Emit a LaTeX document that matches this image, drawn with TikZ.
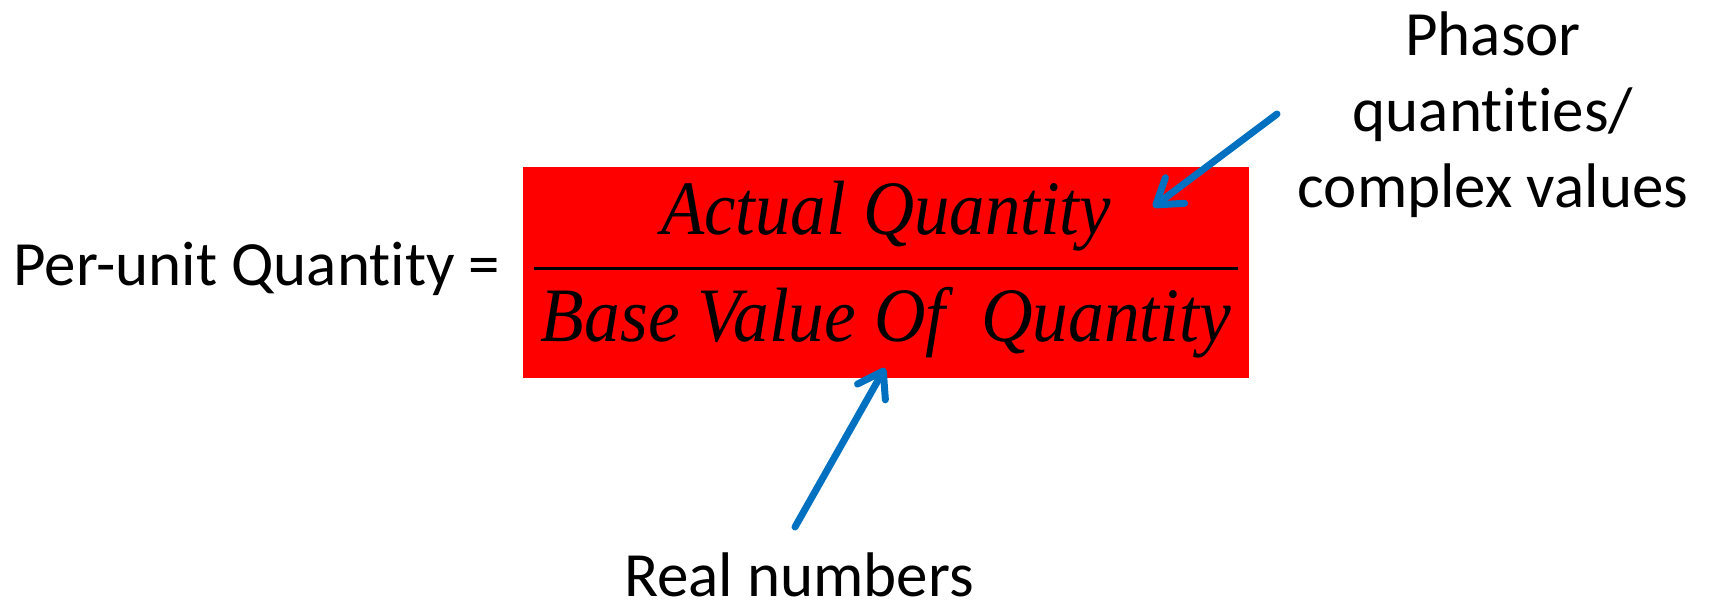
\documentclass[tikz,border=0pt]{standalone}
\usepackage{fontspec}
\setmainfont{Carlito}[Ligatures={NoCommon}]
\newfontfamily\tnr{Liberation Serif}
\usetikzlibrary{arrows.meta}
\definecolor{pblue}{RGB}{0,112,192}
\newcommand\nlg{\kern0pt }
\begin{document}
\begin{tikzpicture}[x=0.5pt,y=-0.5pt,
  lbl/.style={font=\fontsize{31.5}{38}\selectfont, inner sep=0, anchor=base},
  fracterm/.style={font=\tnr\itshape\fontsize{35}{42}\selectfont, inner sep=0, anchor=base},
  pointer/.style={draw=pblue, line width=3.5pt, line cap=round,
    -{Straight Barb[length=12pt,width=16pt,round]}}]
\useasboundingbox (0,0) rectangle (1710,600);
\node[fill=red, minimum width=363pt, minimum height=105.5pt, inner sep=0,
  anchor=north west] (box) at (523,167) {};
\draw[line width=1.5pt] (534,268) -- (1238,268);
\node[fracterm] (num) at (886,234) {\scalebox{1.01}[1.1]{Actual Quantity}};
\node[fracterm] (den) at (886,341) {\scalebox{1.02}[1.1]{Base Value Of\ \ Quantity}};
\node[lbl, anchor=base west] (pu) at (13,285) {Per-unit Quant\nlg ity =};
\node[lbl] (ph1) at (1493,55) {Phasor};
\node[lbl] (ph2) at (1493,131) {quant\nlg it\nlg ies/};
\node[lbl] (ph3) at (1493,207) {complex values};
\node[lbl] (real) at (799,596) {Real numbers};
\coordinate (pstart) at (1277,114);
\coordinate (ptip) at (1153,207);
\coordinate (rstart) at (795,527);
\coordinate (rtip) at (885,368);
\draw[pointer] (pstart) -- (ptip);
\draw[pointer] (rstart) -- (rtip);
\end{tikzpicture}
\end{document}
